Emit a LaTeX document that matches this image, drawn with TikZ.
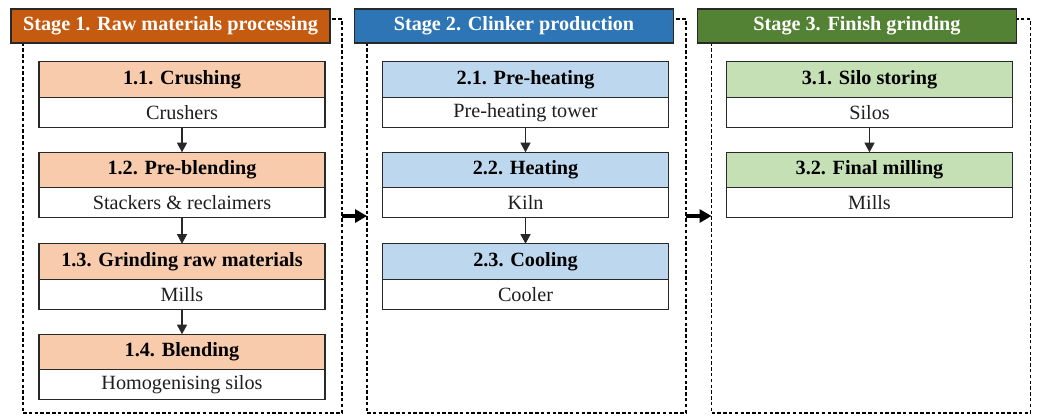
\documentclass[tikz,border=0pt]{standalone}
\usepackage{fontspec}
\setmainfont{Liberation Serif}
\usetikzlibrary{arrows.meta,positioning}
\definecolor{rawdark}{RGB}{197,90,17}
\definecolor{rawsoft}{RGB}{248,203,173}
\definecolor{clkdark}{RGB}{46,117,182}
\definecolor{clksoft}{RGB}{189,215,238}
\definecolor{findark}{RGB}{84,130,53}
\definecolor{finsoft}{RGB}{197,224,180}
\definecolor{ink}{RGB}{40,40,40}
\definecolor{subtext}{RGB}{30,30,30}

\begin{document}
\begin{tikzpicture}[
  x=0.02cm, y=-0.02cm,
  frame/.style={draw=black, dash pattern=on 2pt off 1.3pt, line width=0.8pt, minimum width=6.38cm, minimum height=7.88cm, inner sep=0pt, outer sep=0pt},
  stagehead/.style={draw=ink, line width=0.8pt, text=white, font=\fontsize{11.5}{13}\selectfont\bfseries, minimum width=6.38cm, minimum height=0.68cm, inner sep=0pt, outer sep=0pt},
  stephead/.style={draw=ink, line width=0.8pt, font=\fontsize{11.5}{13}\selectfont\bfseries, minimum width=5.72cm, minimum height=0.71cm, inner sep=0pt, outer sep=0pt},
  stepsub/.style={draw=ink, fill=white, line width=0.8pt, text=subtext, font=\fontsize{11.5}{13}\selectfont, minimum width=5.72cm, minimum height=0.6cm, inner sep=0pt, outer sep=0pt, below=0pt of #1},
  flow/.style={-{Triangle[length=1.9mm,width=2mm]}, line width=0.6pt, draw=ink},
  stageflow/.style={-{Triangle[length=2.4mm,width=2.6mm]}, line width=1.8pt, draw=black},
]
\useasboundingbox (0,0) rectangle (1037,417);

% ------------------------------------------------------------------ stage frames
\node[frame] (f1) at (182.5,216) {};
\node[frame] (f2) at (526.5,216) {};
\node[frame] (f3) at (871,216) {};

\node[stagehead, fill=rawdark] (s1) at (170.5,26) {Stage 1. Raw materials processing};
\node[stagehead, fill=clkdark] (s2) at (514,26) {Stage 2. Clinker production};
\node[stagehead, fill=findark] (s3) at (857,26) {Stage 3. Finish grinding};

% ------------------------------------------------------------------ stage 1
\node[stephead, fill=rawsoft] (h11) at (182,79.5) {1.1. Crushing};
\node[stepsub=h11] (b11) {Crushers};
\node[stephead, fill=rawsoft, below=0.5cm of b11] (h12) {1.2. Pre-blending};
\node[stepsub=h12] (b12) {Stackers \& reclaimers};
\node[stephead, fill=rawsoft, below=0.52cm of b12] (h13) {1.3. Grinding raw materials};
\node[stepsub=h13] (b13) {Mills};
\node[stephead, fill=rawsoft, below=0.5cm of b13] (h14) {1.4. Blending};
\node[stepsub=h14] (b14) {Homogenising silos};

% ------------------------------------------------------------------ stage 2
\node[stephead, fill=clksoft] (h21) at (525.5,79.5) {2.1. Pre-heating};
\node[stepsub=h21] (b21) {Pre-heating tower};
\node[stephead, fill=clksoft, below=0.5cm of b21] (h22) {2.2. Heating};
\node[stepsub=h22] (b22) {Kiln};
\node[stephead, fill=clksoft, below=0.52cm of b22] (h23) {2.3. Cooling};
\node[stepsub=h23] (b23) {Cooler};

% ------------------------------------------------------------------ stage 3
\node[stephead, fill=finsoft] (h31) at (869.5,79.5) {3.1. Silo storing};
\node[stepsub=h31] (b31) {Silos};
\node[stephead, fill=finsoft, below=0.5cm of b31] (h32) {3.2. Final milling};
\node[stepsub=h32] (b32) {Mills};

% ------------------------------------------------------------------ flow
\foreach \a/\b in {b11/h12,b12/h13,b13/h14,b21/h22,b22/h23,b31/h32}
  \draw[flow] (\a) -- (\b);
\draw[stageflow] (f1) -- (f2);
\draw[stageflow] (f2) -- (f3);
\end{tikzpicture}
\end{document}
